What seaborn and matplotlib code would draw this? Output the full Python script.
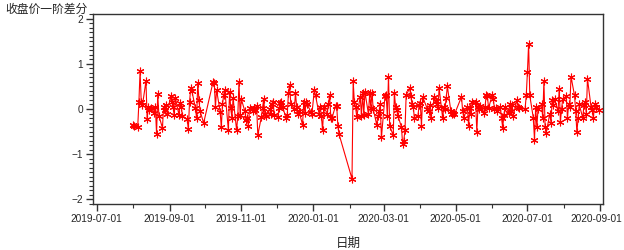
import numpy as np
import pandas as pd
import matplotlib
matplotlib.use("Agg")
import matplotlib.pyplot as plt
import matplotlib.dates as mdates
import matplotlib.transforms as mtransforms
from matplotlib.ticker import MultipleLocator
import seaborn as sns

sns.set_style("ticks")
plt.rcParams['font.family'] = ['Liberation Sans', 'Noto Sans CJK SC', 'DejaVu Sans']
plt.rcParams['axes.unicode_minus'] = True

# ============================================================================
# DATA: first difference of closing price, one list per month (trading days)
# ============================================================================
HOLIDAYS = ['2019-09-13', '2019-10-01', '2019-10-02', '2019-10-03', '2019-10-04',
            '2019-10-07', '2020-01-01', '2020-01-24', '2020-01-27', '2020-01-28',
            '2020-01-29', '2020-01-30', '2020-01-31', '2020-04-06', '2020-05-01',
            '2020-05-04', '2020-05-05', '2020-06-25', '2020-06-26']

aug_2019 = [-0.35, -0.38, -0.40, 0.15, 0.84, 0.16, 0.08, 0.62, -0.23, 0.05, -0.02,
            0.03, -0.08, 0.05, -0.55, 0.33, -0.15, -0.42, 0.05, -0.02, 0.08, -0.10]
sep_2019 = [0.28, 0.15, 0.05, -0.14, 0.25, -0.13, 0.13, 0.05, -0.15, -0.23,
            -0.45, 0.15, 0.46, 0.40, 0.02, -0.20, 0.58, 0.20, -0.05, -0.31]
oct_2019 = [0.60, 0.58, 0.05, 0.42, -0.06, -0.40, 0.10, 0.31, 0.42, -0.47,
            0.38, 0.02, -0.20, 0.24, -0.47, -0.15, 0.60, -0.13]
nov_2019 = [0.22, -0.05, -0.24, -0.20, -0.38, 0.02, -0.05, 0.03, -0.02, 0.07,
            -0.58, -0.18, 0.02, 0.22, -0.12, -0.15, 0.0, -0.10, 0.10, 0.15, -0.13]
dec_2019 = [-0.17, 0.02, 0.13, 0.15, 0.05, -0.20, -0.13, 0.35, 0.53, 0.12, 0.0,
            0.35, 0.05, -0.12, -0.05, -0.35, 0.15, -0.08, 0.15, 0.10, -0.06, -0.10]
jan_2020 = [0.42, 0.30, -0.10, 0.05, -0.15, -0.47, 0.05, -0.10, 0.10, 0.31,
            -0.20, -0.20, 0.07, 0.07, -0.38, -0.56]
feb_2020 = [-1.55, 0.62, 0.15, 0.05, -0.17, 0.27, -0.15, 0.35, -0.13, 0.38,
            -0.12, 0.35, 0.03, 0.36, 0.0, -0.35, -0.15, -0.05, 0.10, -0.63]
mar_2020 = [0.28, 0.31, -0.15, 0.72, -0.38, -0.58, 0.35, 0.05, -0.02, -0.15, -0.40,
            -0.78, -0.70, -0.47, 0.31, 0.46, 0.28, 0.10, 0.05, -0.20, -0.15, 0.08]
apr_2020 = [0.13, -0.37, 0.27, 0.0, -0.05, 0.08, -0.20, 0.27, 0.18, 0.10, 0.02,
            0.46, -0.20, 0.05, 0.0, 0.24, 0.50, -0.05, -0.10, -0.08, -0.12]
may_2020 = [0.27, -0.05, -0.20, 0.05, -0.38, 0.02, -0.10, 0.15, 0.15, -0.50,
            0.05, 0.0, 0.07, -0.08, 0.05, 0.31, 0.28, 0.02]
jun_2020 = [0.30, 0.23, 0.0, 0.02, -0.05, 0.05, -0.20, -0.42, -0.13, 0.05,
            -0.08, 0.10, -0.05, 0.08, -0.15, 0.20, 0.05, 0.02, 0.0, 0.30]
jul_2020 = [0.82, 1.45, 0.30, -0.20, -0.68, 0.05, -0.40, 0.0, 0.10, -0.20, 0.62, -0.40,
            -0.53, -0.10, -0.30, 0.20, 0.08, 0.23, -0.05, 0.45, -0.28, 0.0, 0.23]
aug_2020 = [0.28, -0.20, 0.10, 0.05, 0.72, 0.30, -0.05, -0.52, -0.20, 0.10, -0.20,
            0.08, 0.15, -0.10, 0.67, 0.05, -0.02, -0.20, 0.10, 0.05, -0.03]

values = (aug_2019 + sep_2019 + oct_2019 + nov_2019 + dec_2019 + jan_2020 + feb_2020
          + mar_2020 + apr_2020 + may_2020 + jun_2020 + jul_2020 + aug_2020)

trading_days = pd.bdate_range('2019-08-01', '2020-09-30', freq='C', holidays=HOLIDAYS)
df = pd.DataFrame({'date': trading_days[:len(values)], 'diff': values})

# ============================================================================
# PLOT
# ============================================================================
fig = plt.figure(figsize=(6.24, 2.5), dpi=100)
ax = fig.add_axes([0.149, 0.184, 0.817, 0.76])

sns.lineplot(data=df, x='date', y='diff', ax=ax, color='#ff0000', linewidth=0.8,
             marker=(6, 2, 0), markersize=5.5, markeredgecolor='#ff0000',
             markeredgewidth=0.8)

ax.set_ylim(-2.11, 2.11)
ax.set_xlim(pd.Timestamp('2019-06-28'), pd.Timestamp('2020-09-03'))
ax.yaxis.set_major_locator(MultipleLocator(1))
ax.yaxis.set_minor_locator(MultipleLocator(0.1))
ax.xaxis.set_major_locator(mdates.MonthLocator(bymonth=[1, 3, 5, 7, 9, 11]))
ax.xaxis.set_minor_locator(mdates.MonthLocator())
ax.xaxis.set_major_formatter(mdates.DateFormatter('%Y-%m-%d'))

ax.tick_params(axis='both', which='major', length=5, width=1, color='#333333',
               labelsize=7.3, pad=2)
ax.tick_params(axis='both', which='minor', length=3, width=0.8, color='#333333')
for side in ['top', 'right', 'left', 'bottom']:
    ax.spines[side].set_visible(True)
    ax.spines[side].set_color('#333333')
    ax.spines[side].set_linewidth(1.0)

ax.set_xlabel('日期', fontsize=9, labelpad=10)
ax.set_ylabel('')
fig.text(0.008, 0.962, '收盘价一阶差分', fontsize=8.5, ha='left', va='center',
         family=['Noto Sans CJK SC', 'DejaVu Sans'])

# nudge the last date label a little left so it stays inside the figure
fig.canvas.draw()
last_label = ax.get_xticklabels()[-1]
last_label.set_transform(last_label.get_transform()
                         + mtransforms.ScaledTranslation(-4 / 100, 0, fig.dpi_scale_trans))

plt.savefig('out.png', dpi=100)
